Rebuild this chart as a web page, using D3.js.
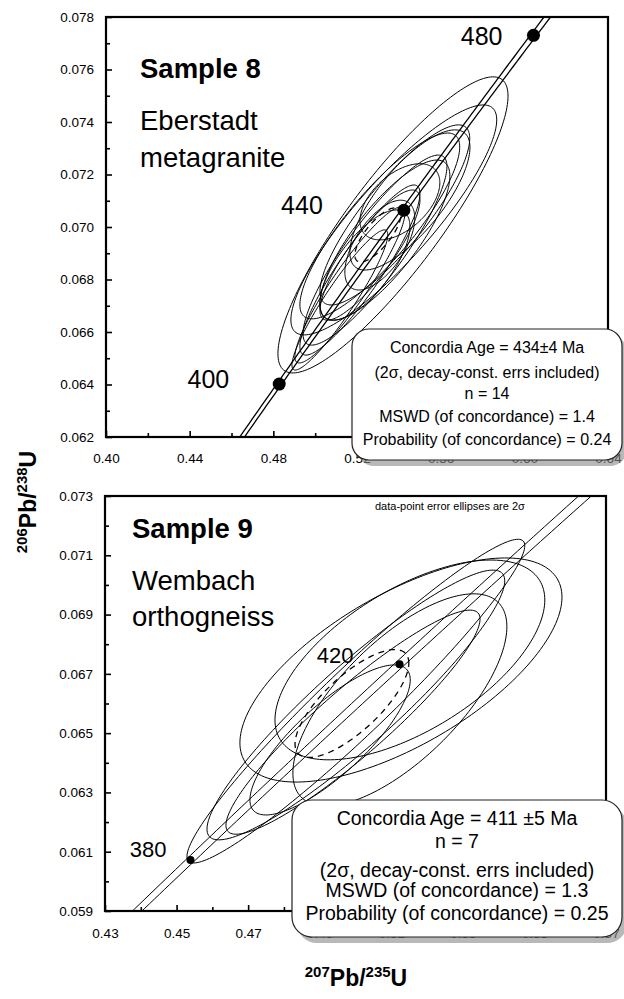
<!DOCTYPE html>
<html><head><meta charset="utf-8">
<script src="https://cdn.jsdelivr.net/npm/d3@7"></script>
<style>
body{margin:0;background:#fff}
svg{display:block}
text{font-family:"Liberation Sans",Arial,Helvetica,sans-serif;fill:#000}
</style>
</head><body>
<svg id="chart" width="624" height="999"></svg>
<script>
// ---------- decay constants (per year) ----------
const LAMBDA238 = 1.55125e-10;
const LAMBDA235 = 9.8485e-10;
const LAMBDA235_ERR = 0.0200e-10;

// ---------- Sample 8 ----------
const s8XTicks = [0.40, 0.44, 0.48, 0.52, 0.56, 0.60, 0.64];
const s8XMinor = [0.42, 0.46, 0.50, 0.54, 0.58, 0.62];
const s8YTicks = [0.062, 0.064, 0.066, 0.068, 0.070, 0.072, 0.074, 0.076, 0.078];
const s8YMinor = [0.063, 0.065, 0.067, 0.069, 0.071, 0.073, 0.075, 0.077];
const s8AgeMarkers = [400, 440, 480];
const s8EllX   = [0.5372, 0.5376, 0.5309, 0.5286, 0.5405, 0.5214, 0.5166, 0.5333, 0.5262, 0.5453, 0.5238, 0.5118, 0.5381, 0.5309];
const s8EllY   = [0.07008, 0.07027, 0.07004, 0.06912, 0.07096, 0.06836, 0.06779, 0.06950, 0.06893, 0.07103, 0.06855, 0.06722, 0.07046, 0.06931];
const s8EllSx  = [0.0550, 0.0492, 0.0382, 0.0344, 0.0191, 0.0287, 0.0263, 0.0311, 0.0239, 0.0287, 0.0215, 0.0229, 0.0358, 0.0167];
const s8EllSy  = [0.00564, 0.00438, 0.00354, 0.00362, 0.00145, 0.00324, 0.00297, 0.00305, 0.00248, 0.00267, 0.00210, 0.00267, 0.00343, 0.00171];
const s8EllRho = [0.87, 0.87, 0.85, 0.88, 0.50, 0.90, 0.92, 0.80, 0.85, 0.75, 0.70, 0.93, 0.85, 0.60];
const s8AgeEllipse = [0.5300, 0.06970, 0.0110, 0.00103, 0.75];
const s8Title = ["Sample 8", "Eberstadt", "metagranite"];
const s8Stats = ["Concordia Age = 434\u00b14 Ma", "(2\u03c3, decay-const. errs included)", "n = 14", "MSWD (of concordance) = 1.4", "Probability (of concordance) = 0.24"];

// ---------- Sample 9 ----------
const s9XTicks = [0.43, 0.45, 0.47, 0.49, 0.51, 0.53, 0.55, 0.57];
const s9XMinor = [0.44, 0.46, 0.48, 0.50, 0.52, 0.54, 0.56];
const s9YTicks = [0.059, 0.061, 0.063, 0.065, 0.067, 0.069, 0.071, 0.073];
const s9YMinor = [0.060, 0.062, 0.064, 0.066, 0.068, 0.070, 0.072];
const s9AgeMarkers = [380, 420];
const s9EllX   = [0.5127, 0.5124, 0.5001, 0.5001, 0.4993, 0.5152, 0.4929];
const s9EllY   = [0.06713, 0.06612, 0.06608, 0.06595, 0.06537, 0.06747, 0.06477];
const s9EllSx  = [0.0450, 0.0299, 0.0472, 0.0416, 0.0355, 0.0377, 0.0224];
const s9EllSy  = [0.00378, 0.00358, 0.00546, 0.00455, 0.00378, 0.00337, 0.00253];
const s9EllRho = [0.65, 0.69, 0.96, 0.92, 0.92, 0.60, 0.80];
const s9AgeEllipse = [0.4990, 0.0660, 0.0159, 0.00182, 0.75];
const s9Title = ["Sample 9", "Wembach", "orthogneiss"];
const s9Stats = ["Concordia Age = 411 \u00b15 Ma", "n = 7", "(2\u03c3, decay-const. errs included)", "MSWD (of concordance) = 1.3", "Probability (of concordance) = 0.25"];
const s9Note = "data-point error ellipses are 2\u03c3";

const yTitle = [["206", true], ["Pb/", false], ["238", true], ["U", false]];
const xTitle = [["207", true], ["Pb/", false], ["235", true], ["U", false]];

// ---------- drawing ----------
const svg = d3.select("#chart");

function ellipsePoints(cx, cy, sx, sy, rho) {
  const pts = [];
  const k = Math.sqrt(1 - rho * rho);
  for (let i = 0; i < 180; i++) {
    const t = i / 180 * 2 * Math.PI;
    pts.push([cx + sx * Math.cos(t), cy + sy * (rho * Math.cos(t) + k * Math.sin(t))]);
  }
  return pts;
}
function concordia(tMa, l235) {
  const t = tMa * 1e6;
  return [Math.exp(l235 * t) - 1, Math.exp(LAMBDA238 * t) - 1];
}

function panel(o) {
  const x = d3.scaleLinear().domain(o.xDomain).range([o.left, o.right]);
  const y = d3.scaleLinear().domain(o.yDomain).range([o.bottom, o.top]);
  const g = svg.append("g");
  const clipId = "clip" + o.id;
  g.append("clipPath").attr("id", clipId).append("rect")
    .attr("x", o.left).attr("y", o.top).attr("width", o.right - o.left).attr("height", o.bottom - o.top);
  const plot = g.append("g").attr("clip-path", `url(#${clipId})`);
  const line = d3.line().x(d => x(d[0])).y(d => y(d[1]));

  // concordia band (decay-constant uncertainty)
  const ages = d3.range(300, 601, 1);
  [LAMBDA235 - LAMBDA235_ERR * o.bandK, LAMBDA235 + LAMBDA235_ERR * o.bandK].forEach(l => {
    plot.append("path").attr("d", line(ages.map(a => concordia(a, l))))
      .attr("fill", "none").attr("stroke", "#000").attr("stroke-width", o.bandW);
  });

  // data-point error ellipses
  const closed = d3.line().x(d => x(d[0])).y(d => y(d[1])).curve(d3.curveLinearClosed);
  o.ex.forEach((cx, i) => {
    plot.append("path").attr("d", closed(ellipsePoints(cx, o.ey[i], o.esx[i], o.esy[i], o.erho[i])))
      .attr("fill", "none").attr("stroke", "#000").attr("stroke-width", 1.0);
  });
  // concordia age ellipse (dashed)
  const ae = o.ageEll;
  plot.append("path").attr("d", closed(ellipsePoints(ae[0], ae[1], ae[2], ae[3], ae[4])))
    .attr("fill", "none").attr("stroke", "#000").attr("stroke-width", 1.3)
    .attr("stroke-dasharray", "6,5");

  // age markers
  o.markers.forEach((a, i) => {
    const p = concordia(a, LAMBDA235);
    plot.append("circle").attr("cx", x(p[0])).attr("cy", y(p[1])).attr("r", o.dotR).attr("fill", "#000");
    g.append("text").attr("x", x(p[0]) + o.labOff[i][0]).attr("y", y(p[1]) + o.labOff[i][1])
      .attr("text-anchor", "end").attr("font-size", o.ageFont).text(a);
  });

  // axes
  const fmt = d3.format(o.xFmt);
  g.append("g").attr("transform", `translate(0,${o.bottom})`)
    .call(d3.axisBottom(x).tickValues(o.xTicks).tickSize(-6).tickSizeOuter(0).tickPadding(o.xPad).tickFormat(fmt));
  g.append("g").attr("transform", `translate(0,${o.bottom})`)
    .call(d3.axisBottom(x).tickValues(o.xMinor).tickSize(-4).tickSizeOuter(0).tickFormat(""));
  g.append("g").attr("transform", `translate(${o.left},0)`)
    .call(d3.axisLeft(y).tickValues(o.yTicks).tickSize(-6).tickSizeOuter(0).tickPadding(12).tickFormat(d3.format(".3f")));
  g.append("g").attr("transform", `translate(${o.left},0)`)
    .call(d3.axisLeft(y).tickValues(o.yMinor).tickSize(-4).tickSizeOuter(0).tickFormat(""));
  g.selectAll(".domain").remove();
  g.selectAll(".tick line").attr("stroke", "#000").attr("stroke-width", 1.6);
  g.selectAll(".tick text").attr("font-size", 13.5).attr("font-family", "Liberation Sans, Arial, sans-serif").attr("fill", "#000");

  // frame
  g.append("rect").attr("x", o.left).attr("y", o.top).attr("width", o.right - o.left).attr("height", o.bottom - o.top)
    .attr("fill", "none").attr("stroke", "#000").attr("stroke-width", 2.2);

  // titles
  const tl = g.append("g");
  tl.append("text").attr("x", o.titleX).attr("y", o.titleY[0]).attr("font-size", 27.5).attr("font-weight", "bold").text(o.title[0]);
  tl.append("text").attr("x", o.titleX).attr("y", o.titleY[1]).attr("font-size", 27.5).text(o.title[1]);
  tl.append("text").attr("x", o.titleX).attr("y", o.titleY[2]).attr("font-size", 27.5).text(o.title[2]);

  if (o.note) {
    g.append("text").attr("x", o.noteX).attr("y", o.noteY).attr("font-size", 11).text(o.note);
  }

  // statistics box
  const b = o.box;
  g.append("rect").attr("x", b.x + 5).attr("y", b.y + 6).attr("width", b.w).attr("height", b.h)
    .attr("rx", b.r).attr("fill", "#888").attr("opacity", 0.6);
  g.append("rect").attr("x", b.x).attr("y", b.y).attr("width", b.w).attr("height", b.h)
    .attr("rx", b.r).attr("fill", "#fff").attr("stroke", "#222").attr("stroke-width", 1.2);
  o.stats.forEach((s, i) => {
    g.append("text").attr("x", b.x + b.w / 2).attr("y", b.y + b.lines[i])
      .attr("text-anchor", "middle").attr("font-size", b.font).text(s);
  });
}

panel({
  id: 8, left: 106, right: 608, top: 17, bottom: 437,
  xDomain: [0.40, 0.64], yDomain: [0.062, 0.078],
  xTicks: s8XTicks, xMinor: s8XMinor, yTicks: s8YTicks, yMinor: s8YMinor, xFmt: ".2f", xPad: 16,
  markers: s8AgeMarkers, labOff: [[-50, 4], [-81, 4], [-31, 10]], ageFont: 25, dotR: 6.5, bandW: 1.3, bandK: 1,
  ex: s8EllX, ey: s8EllY, esx: s8EllSx, esy: s8EllSy, erho: s8EllRho, ageEll: s8AgeEllipse,
  title: s8Title, titleX: 140, titleY: [78, 130, 167],
  stats: s8Stats,
  box: { x: 352, y: 329, w: 270, h: 131, r: 17, font: 16, lines: [24, 48.5, 70, 93, 116] }
});

panel({
  id: 9, left: 105, right: 606, top: 496, bottom: 911,
  xDomain: [0.43, 0.57], yDomain: [0.059, 0.073],
  xTicks: s9XTicks, xMinor: s9XMinor, yTicks: s9YTicks, yMinor: s9YMinor, xFmt: ".2f", xPad: 17,
  markers: s9AgeMarkers, labOff: [[-24, -3], [-46, -1]], ageFont: 22, dotR: 4, bandW: 1.0, bandK: 1.25,
  ex: s9EllX, ey: s9EllY, esx: s9EllSx, esy: s9EllSy, erho: s9EllRho, ageEll: s9AgeEllipse,
  title: s9Title, titleX: 132, titleY: [538, 590, 626],
  note: s9Note, noteX: 375, noteY: 510,
  stats: s9Stats,
  box: { x: 292, y: 800, w: 330, h: 137, r: 20, font: 19.5, lines: [25, 48, 77, 97, 120] }
});

// axis titles
function richTitle(sel, parts) {
  parts.forEach(([t, sup], i) => {
    const prevSup = i > 0 ? parts[i - 1][1] : false;
    let dy = 0;
    if (sup && !prevSup) dy = -9;
    if (!sup && prevSup) dy = 9;
    sel.append("tspan").attr("dy", dy).attr("font-size", sup ? 15 : 23).text(t);
  });
}
const yt = svg.append("text").attr("transform", "translate(36,502) rotate(-90)")
  .attr("text-anchor", "middle").attr("font-weight", "bold");
richTitle(yt, yTitle);
const xt = svg.append("text").attr("x", 356).attr("y", 986)
  .attr("text-anchor", "middle").attr("font-weight", "bold");
richTitle(xt, xTitle);
</script>
</body></html>
